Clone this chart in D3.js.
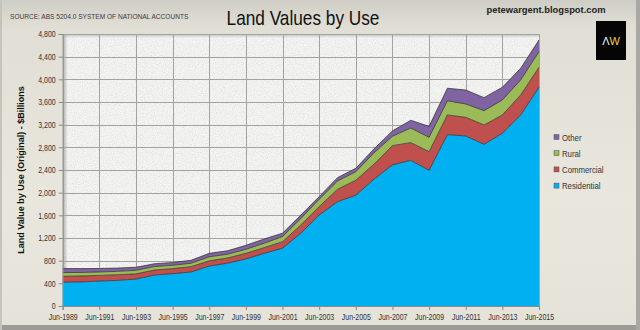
<!DOCTYPE html>
<html><head><meta charset="utf-8">
<script src="https://cdn.jsdelivr.net/npm/d3@7/dist/d3.min.js"></script>
<style>
html,body{margin:0;padding:0;background:#e6e4db;}
svg{display:block;}
.nar{font-family:"Liberation Sans",Arial,sans-serif;}
</style></head>
<body>
<svg id="c" width="640" height="330"></svg>
<script>
// ---- data ----
const years = [1989,1990,1991,1992,1993,1994,1995,1996,1997,1998,1999,2000,2001,2002,2003,2004,2005,2006,2007,2008,2009,2010,2011,2012,2013,2014,2015];
const residential = [420,425,440,452,475,545,570,600,705,755,830,930,1020,1285,1605,1840,1955,2240,2490,2570,2395,3025,3000,2853,3048,3371,3860];
const commercial  = [105,105,100,100,92,90,90,94,92,92,100,100,115,145,148,220,265,265,340,313,329,346,330,342,323,353,353];
const rural       = [65,62,60,60,62,60,58,60,72,66,70,78,90,115,130,145,150,200,165,257,253,250,235,252,265,265,276];
const other       = [70,68,62,58,55,50,50,52,60,62,70,75,60,60,47,60,60,70,95,137,193,221,247,230,224,206,206];
const seriesNames = ["Residential","Commercial","Rural","Other"];
const seriesColors = ["#00b0f0","#c0504d","#9bbb59","#8064a2"];
const xTickYears = [1989,1991,1993,1995,1997,1999,2001,2003,2005,2007,2009,2011,2013,2015];
const xTickLabels = ["Jun-1989","Jun-1991","Jun-1993","Jun-1995","Jun-1997","Jun-1999","Jun-2001","Jun-2003","Jun-2005","Jun-2007","Jun-2009","Jun-2011","Jun-2013","Jun-2015"];
const yTicks = [0,400,800,1200,1600,2000,2400,2800,3200,3600,4000,4400,4800];
const yTickLabels = ["0","400","800","1,200","1,600","2,000","2,400","2,800","3,200","3,600","4,000","4,400","4,800"];

const rows = years.map((yr,i)=>({year:yr, Residential:residential[i], Commercial:commercial[i], Rural:rural[i], Other:other[i]}));

const svg = d3.select("#c");
const W=640,H=330;
const L=62.7,R=539,T=34,B=306;
const x = d3.scaleLinear().domain([1989,2015]).range([L,R]);
const y = d3.scaleLinear().domain([0,4800]).range([B,T]);

const defs = svg.append("defs");
const bg = defs.append("linearGradient").attr("id","bg").attr("x1",0).attr("y1",0).attr("x2",0).attr("y2",1);
bg.append("stop").attr("offset","0%").attr("stop-color","#cfcec6");
bg.append("stop").attr("offset","8%").attr("stop-color","#e0ded5");
bg.append("stop").attr("offset","60%").attr("stop-color","#e8e6dd");
bg.append("stop").attr("offset","100%").attr("stop-color","#e4e2d9");
const lsh = defs.append("linearGradient").attr("id","lsh").attr("x1",0).attr("y1",0).attr("x2",1).attr("y2",0);
lsh.append("stop").attr("offset","0%").attr("stop-color","#9a9a98").attr("stop-opacity",0.8);
lsh.append("stop").attr("offset","100%").attr("stop-color","#9a9a98").attr("stop-opacity",0);
const tsh = defs.append("linearGradient").attr("id","tsh").attr("x1",0).attr("y1",0).attr("x2",0).attr("y2",1);
tsh.append("stop").attr("offset","0%").attr("stop-color","#a8a8a6").attr("stop-opacity",0.7);
tsh.append("stop").attr("offset","100%").attr("stop-color","#a8a8a6").attr("stop-opacity",0);
const f = defs.append("filter").attr("id","noise").attr("x",0).attr("y",0).attr("width","100%").attr("height","100%");
f.append("feTurbulence").attr("type","fractalNoise").attr("baseFrequency",0.9).attr("numOctaves",2).attr("seed",3).attr("result","n");
f.append("feColorMatrix").attr("in","n").attr("type","matrix")
 .attr("values","0 0 0 0 0.55  0 0 0 0 0.55  0 0 0 0 0.55  0 0 0 -1.6 0.95").attr("result","m");
f.append("feComposite").attr("in","m").attr("in2","SourceGraphic").attr("operator","in");

// background
svg.append("rect").attr("width",W).attr("height",H).attr("fill","url(#bg)");
svg.append("rect").attr("x",0).attr("y",325).attr("width",W).attr("height",5).attr("fill","#9c9b96");
svg.append("rect").attr("x",636).attr("y",0).attr("width",4).attr("height",H).attr("fill","#a9a8a2");
svg.append("rect").attr("x",0).attr("y",0).attr("width",2).attr("height",H).attr("fill","#c4c3bc");

// plot area
svg.append("rect").attr("x",L).attr("y",T).attr("width",R-L).attr("height",B-T).attr("fill","#f4f4f2");
svg.append("rect").attr("x",L).attr("y",T).attr("width",R-L).attr("height",B-T).attr("fill","#f4f4f2").attr("filter","url(#noise)").attr("opacity",0.5);
svg.append("rect").attr("x",L).attr("y",T).attr("width",R-L).attr("height",4).attr("fill","url(#tsh)");
svg.append("rect").attr("x",L).attr("y",T).attr("width",5).attr("height",B-T).attr("fill","url(#lsh)");

// grid
const grid = svg.append("g").attr("stroke","#a3a3a1").attr("stroke-width",1);
grid.selectAll("line.h").data(yTicks.slice(1)).join("line")
  .attr("x1",L).attr("x2",R).attr("y1",d=>Math.round(y(d))+0.5).attr("y2",d=>Math.round(y(d))+0.5);
grid.selectAll("line.v").data(xTickYears.slice(1)).join("line")
  .attr("y1",T).attr("y2",B).attr("x1",d=>Math.round(x(d))+0.5).attr("x2",d=>Math.round(x(d))+0.5);

// stacked areas
const stack = d3.stack().keys(seriesNames);
const layers = stack(rows);
const area = d3.area().x(d=>x(d.data.year)).y0(d=>y(d[0])).y1(d=>y(d[1]));
const line = d3.line().x(d=>x(d.data.year)).y(d=>y(d[1]));
svg.append("g").selectAll("path").data(layers).join("path")
  .attr("d",area).attr("fill",(d,i)=>seriesColors[i]);
svg.append("g").selectAll("path").data(layers).join("path")
  .attr("d",line).attr("fill","none").attr("stroke","#2a2a2a").attr("stroke-width",0.7);

// axes
const yAxis = d3.axisLeft(y).tickValues(yTicks).tickFormat((d,i)=>yTickLabels[i]).tickSize(4).tickPadding(3);
const gy = svg.append("g").attr("transform",`translate(${L},0)`).call(yAxis);
const xAxis = d3.axisBottom(x).tickValues(xTickYears).tickFormat((d,i)=>xTickLabels[i]).tickSize(4).tickPadding(4);
const gx = svg.append("g").attr("transform",`translate(0,${B})`).call(xAxis);
[gy,gx].forEach(g=>{
  g.selectAll(".domain").attr("stroke","#8a8a88");
  g.selectAll(".tick line").attr("stroke","#8a8a88");
  g.selectAll("text").attr("class","nar").attr("font-size","8.5px").attr("fill","#333");
});

// titles
svg.append("text").attr("x",10).attr("y",19).attr("class","nar").attr("font-size","8px").attr("fill","#3a3a3a")
  .text("SOURCE: ABS 5204.0 SYSTEM OF NATIONAL ACCOUNTS");
svg.append("text").attr("x",303).attr("y",25).attr("text-anchor","middle").attr("class","nar").attr("font-size","21px").attr("fill","#111")
  .text("Land Values by Use");
svg.append("text").attr("x",546).attr("y",13).attr("text-anchor","middle").attr("font-family","Liberation Sans, Arial, sans-serif").attr("font-weight","bold").attr("font-size","9.5px").attr("fill","#222")
  .attr("textLength",119).attr("lengthAdjust","spacingAndGlyphs").text("petewargent.blogspot.com");
svg.append("text").attr("transform","translate(24,170) rotate(-90)").attr("text-anchor","middle")
  .attr("font-family","Liberation Sans, Arial, sans-serif").attr("font-weight","bold").attr("font-size","9px").attr("fill","#111")
  .text("Land Value by Use (Original) - $Billions");

// logo
svg.append("rect").attr("x",596).attr("y",21).attr("width",30).attr("height",39).attr("fill","#050505");
const lg = svg.append("text").attr("x",611).attr("y",45).attr("text-anchor","middle").attr("font-family","Liberation Sans, Arial, sans-serif").attr("font-size","11px");
lg.append("tspan").attr("fill","#eeeeee").text("\u039B");
lg.append("tspan").attr("fill","#e8d44a").text("W");

// legend
const legOrder = [3,2,1,0];
const leg = svg.append("g").selectAll("g").data(legOrder).join("g")
  .attr("transform",(d,i)=>`translate(554,${137+i*16.2})`);
leg.append("rect").attr("x",0).attr("y",-2.5).attr("width",5).attr("height",5)
  .attr("fill",d=>seriesColors[d]).attr("stroke","#555").attr("stroke-width",0.5);
leg.append("text").attr("x",8).attr("y",3.5).attr("class","nar").attr("font-size","9.5px").attr("fill","#333")
  .text(d=>seriesNames[d]);

// emulate a narrow face: compress the measured width of every narrow-style text
svg.selectAll("text.nar").each(function(){
  const w = this.getComputedTextLength();
  if (w>0) d3.select(this).attr("textLength", (w*0.82).toFixed(1)).attr("lengthAdjust","spacingAndGlyphs");
});
</script>
</body></html>
